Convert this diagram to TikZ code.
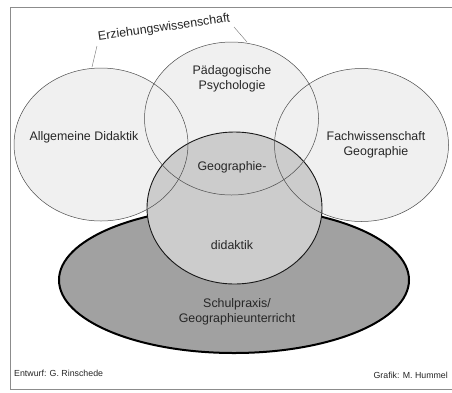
\documentclass[tikz,border=0pt]{standalone}
\usepackage{fontspec}
\setmainfont{Liberation Sans}
\usetikzlibrary{shapes.geometric}
\begin{document}
\begin{tikzpicture}[x=1pt,y=-1pt,
  lbl/.style={font=\fontsize{12.4}{14.5}\selectfont, text=black!85, align=center, inner sep=0pt},
  credit/.style={font=\fontsize{8.8}{10}\selectfont, text=black!85, inner sep=0pt},
  field/.style={ellipse, fill=black!6, minimum width=174pt, minimum height=153pt, inner sep=0pt},
  fieldrim/.style={draw=black!70, line width=0.5pt},
  core/.style={ellipse, draw=black!90, line width=0.9pt, fill=black!20,
    minimum width=175pt, minimum height=152pt, inner sep=0pt},
  practice/.style={ellipse, draw=black, line width=2pt, fill=black!37,
    minimum width=350pt, minimum height=146pt, inner sep=0pt},
  frameline/.style={draw=black!45, line width=0.8pt},
  leader/.style={draw=black!55, line width=0.4pt}
]
\useasboundingbox[fill=white] (0,0) rectangle (452,392);

% frame
\coordinate (fTR) at (452,7);
\coordinate (fTL) at (10,7);
\coordinate (fBL) at (10,389);
\coordinate (fBR) at (452,389);
\draw[frameline] (fTR) -- (fTL) -- (fBL) -- (fBR);

% school practice (bottom)
\node[practice] (praxis) at (234,280) {};
% three neighbouring fields (fills)
\node[field] (ad) at (101,144.5) {};
\node[field] (pp) at (231.5,118.5) {};
\node[field] (fg) at (361.5,145) {};
% subject didactics (centre)
\node[core] (gd) at (234.5,208) {};
% rims of the neighbouring fields, drawn over the centre
\foreach \f in {ad,pp,fg}
  \draw[fieldrim] (\f.center) ellipse [x radius=87pt, y radius=76.5pt];

% labels
\node[lbl] (tpp) at (232,79) {Pädagogische\\Psychologie};
\node[lbl] (tad) at (84,137) {Allgemeine Didaktik};
\node[lbl] (tfg) at (376,145) {Fachwissenschaft\\Geographie};
\node[lbl] (tgd1) at (232,167) {Geographie-};
\node[lbl] (tgd2) at (232,245) {didaktik};
\node[lbl] (tsp) at (237,312) {Schulpraxis/\\Geographieunterricht};

% umbrella term with leader lines
\node[lbl, anchor=base, rotate=8] (ezw) at (164.5,31) {Erziehungswissenschaft};
\coordinate (ezwL) at (97,46);
\coordinate (ezwR) at (234,27);
\coordinate (adTop) at (92,67);
\coordinate (ppTop) at (247,42);
\draw[leader] (ezwL) -- (adTop);
\draw[leader] (ezwR) -- (ppTop);

% credits
\node[credit, anchor=west] (entwurf) at (14,373) {Entwurf: G. Rinschede};
\node[credit, anchor=east] (grafik) at (448,375) {Grafik: M. Hummel};
\end{tikzpicture}
\end{document}
